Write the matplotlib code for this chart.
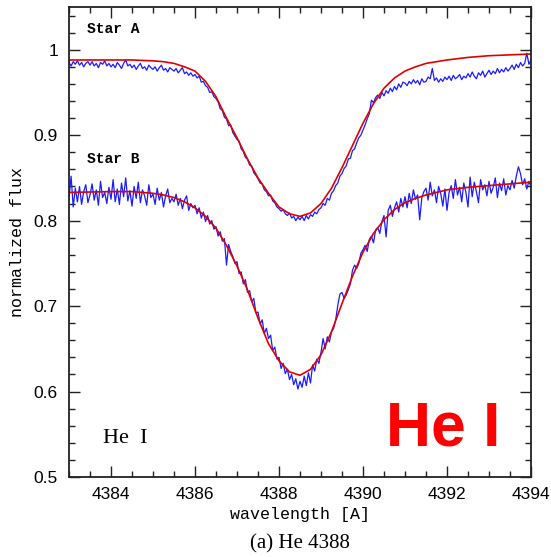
import matplotlib
matplotlib.use('Agg')
import matplotlib.pyplot as plt
from matplotlib.ticker import MultipleLocator
import numpy as np

flux_a_obs = [
    0.985, 0.981, 0.986, 0.983, 0.987, 0.982, 0.985, 0.980, 0.984, 0.986,
    0.982, 0.986, 0.981, 0.984, 0.979, 0.985, 0.983, 0.987, 0.981, 0.984,
    0.980, 0.983, 0.979, 0.985, 0.982, 0.978, 0.984, 0.988, 0.981, 0.983,
    0.979, 0.982, 0.977, 0.981, 0.984, 0.978, 0.980, 0.976, 0.982, 0.979,
    0.977, 0.980, 0.975, 0.979, 0.982, 0.976, 0.978, 0.974, 0.979, 0.977,
    0.975, 0.978, 0.973, 0.976, 0.979, 0.972, 0.974, 0.970, 0.973, 0.969,
    0.971, 0.967, 0.969, 0.962, 0.963, 0.958, 0.956, 0.950, 0.951, 0.945,
    0.943, 0.939, 0.931, 0.929, 0.921, 0.919, 0.911, 0.912, 0.903, 0.899,
    0.895, 0.893, 0.884, 0.881, 0.874, 0.872, 0.865, 0.864, 0.856, 0.853,
    0.849, 0.844, 0.843, 0.836, 0.834, 0.829, 0.830, 0.823, 0.821, 0.816,
    0.814, 0.811, 0.813, 0.808, 0.806, 0.809, 0.803, 0.805, 0.800, 0.804,
    0.801, 0.805, 0.800, 0.806, 0.802, 0.807, 0.805, 0.810, 0.808, 0.813,
    0.815, 0.820, 0.818, 0.826, 0.824, 0.832, 0.835, 0.841, 0.844, 0.852,
    0.855, 0.861, 0.864, 0.872, 0.873, 0.882, 0.884, 0.891, 0.897, 0.900,
    0.906, 0.912, 0.919, 0.925, 0.941, 0.938, 0.944, 0.947, 0.943, 0.950,
    0.946, 0.952, 0.949, 0.955, 0.951, 0.957, 0.953, 0.960, 0.956, 0.962,
    0.961, 0.958, 0.963, 0.960, 0.965, 0.961, 0.964, 0.959, 0.966, 0.962,
    0.963, 0.968, 0.966, 0.978, 0.964, 0.967, 0.962, 0.966, 0.963, 0.968,
    0.965, 0.969, 0.964, 0.970, 0.966, 0.968, 0.971, 0.965, 0.969, 0.967,
    0.972, 0.968, 0.974, 0.969, 0.966, 0.973, 0.970, 0.975, 0.968, 0.972,
    0.976, 0.971, 0.975, 0.972, 0.978, 0.973, 0.977, 0.974, 0.979, 0.975,
    0.978, 0.982, 0.977, 0.983, 0.979, 0.985, 0.981, 0.984, 0.996, 0.983,
    0.988,
]

flux_b_obs = [
    0.826, 0.852, 0.816, 0.838, 0.822, 0.840, 0.819, 0.834, 0.842, 0.821,
    0.830, 0.843, 0.824, 0.836, 0.818, 0.846, 0.827, 0.833, 0.820, 0.839,
    0.825, 0.848, 0.822, 0.837, 0.819, 0.844, 0.828, 0.850, 0.823, 0.835,
    0.817, 0.840, 0.826, 0.845, 0.821, 0.836, 0.829, 0.818, 0.842, 0.827,
    0.831, 0.819, 0.838, 0.824, 0.833, 0.816, 0.829, 0.837, 0.821, 0.826,
    0.822, 0.831, 0.818, 0.826, 0.814, 0.824, 0.829, 0.812, 0.820, 0.815,
    0.818, 0.808, 0.815, 0.803, 0.810, 0.799, 0.806, 0.796, 0.800, 0.790,
    0.793, 0.782, 0.787, 0.776, 0.779, 0.748, 0.772, 0.764, 0.758, 0.750,
    0.752, 0.738, 0.740, 0.726, 0.731, 0.716, 0.718, 0.705, 0.709, 0.692,
    0.693, 0.679, 0.684, 0.668, 0.674, 0.662, 0.666, 0.648, 0.652, 0.638,
    0.640, 0.627, 0.633, 0.621, 0.626, 0.614, 0.620, 0.608, 0.615, 0.603,
    0.612, 0.605, 0.618, 0.607, 0.622, 0.610, 0.631, 0.624, 0.638, 0.633,
    0.646, 0.662, 0.650, 0.664, 0.658, 0.670, 0.674, 0.684, 0.701, 0.714,
    0.716, 0.709, 0.713, 0.719, 0.726, 0.742, 0.748, 0.744, 0.750, 0.762,
    0.766, 0.771, 0.764, 0.778, 0.782, 0.774, 0.789, 0.792, 0.785, 0.799,
    0.806, 0.781, 0.812, 0.818, 0.805, 0.815, 0.822, 0.810, 0.826, 0.816,
    0.828, 0.815, 0.832, 0.820, 0.836, 0.825, 0.830, 0.801, 0.827, 0.834,
    0.838, 0.824, 0.845, 0.829, 0.836, 0.821, 0.840, 0.832, 0.817, 0.837,
    0.812, 0.833, 0.841, 0.826, 0.848, 0.830, 0.839, 0.822, 0.844, 0.833,
    0.816, 0.851, 0.828, 0.845, 0.834, 0.821, 0.848, 0.836, 0.842, 0.829,
    0.846, 0.832, 0.839, 0.850, 0.827, 0.844, 0.835, 0.849, 0.830, 0.841,
    0.836, 0.847, 0.838, 0.852, 0.863, 0.855, 0.842, 0.849, 0.837, 0.846,
    0.840,
]

# model fits (red)
wave_model = [4383.0, 4384.0, 4384.5, 4385.0, 4385.25, 4385.5, 4385.75, 4386.0,
              4386.25, 4386.5, 4386.75, 4387.0, 4387.25, 4387.5, 4387.75, 4388.0,
              4388.25, 4388.5, 4388.75, 4389.0, 4389.25, 4389.5, 4389.75, 4390.0,
              4390.25, 4390.5, 4390.75, 4391.0, 4391.25, 4391.5, 4391.75, 4392.0,
              4392.5, 4393.0, 4393.5, 4394.0]
flux_a_fit = [0.988, 0.988, 0.988, 0.987, 0.986, 0.984, 0.980, 0.975,
              0.963, 0.945, 0.920, 0.897, 0.872, 0.850, 0.832, 0.816,
              0.808, 0.805, 0.809, 0.820, 0.838, 0.862, 0.888, 0.914,
              0.937, 0.955, 0.967, 0.975, 0.980, 0.984, 0.986, 0.988,
              0.991, 0.993, 0.994, 0.995]
flux_b_fit = [0.833, 0.834, 0.834, 0.832, 0.830, 0.827, 0.822, 0.815,
              0.805, 0.791, 0.771, 0.747, 0.719, 0.686, 0.656, 0.636,
              0.623, 0.619, 0.626, 0.643, 0.670, 0.703, 0.735, 0.763,
              0.785, 0.801, 0.813, 0.821, 0.826, 0.830, 0.833, 0.836,
              0.839, 0.841, 0.843, 0.845]

wave_obs = np.linspace(4383, 4394, len(flux_a_obs))

fig = plt.figure(figsize=(5.51, 5.57), dpi=100)
ax = fig.add_axes([69 / 551, 1 - 477 / 557, 462 / 551, 470 / 557])

ax.plot(wave_obs, flux_a_obs, color='#1a1aff', lw=0.9)
ax.plot(wave_obs, flux_b_obs, color='#1a1aff', lw=0.9)
ax.plot(wave_model, flux_a_fit, color='#e00000', lw=1.2)
ax.plot(wave_model, flux_b_fit, color='#e00000', lw=1.2)

ax.set_xlim(4383, 4394)
ax.set_ylim(0.5, 1.05)
ax.xaxis.set_major_locator(MultipleLocator(2))
ax.xaxis.set_minor_locator(MultipleLocator(0.5))
ax.yaxis.set_major_locator(MultipleLocator(0.1))
ax.yaxis.set_minor_locator(MultipleLocator(0.02))
ax.yaxis.set_major_formatter(plt.FuncFormatter(lambda v, p: '%g' % round(v, 2)))
ax.tick_params(which='both', direction='in', top=True, right=True, width=1.0, color='#222222')
ax.tick_params(which='major', length=8, labelsize=12.5)
ax.tick_params(axis='x', which='major', pad=7)
ax.tick_params(axis='y', which='major', pad=8)
ax.tick_params(which='minor', length=4.3)
for lab in ax.get_xticklabels() + ax.get_yticklabels():
    lab.set_family('Liberation Sans')
for s in ax.spines.values():
    s.set_linewidth(1.3)
    s.set_color('#222222')

ax.set_xlabel('wavelength [A]', family='Liberation Mono', fontsize=12, labelpad=4)
ax.set_ylabel('normalized flux', family='Liberation Mono', fontsize=12, labelpad=6)

ax.text(4383.43, 1.019, 'Star A', family='Liberation Mono', fontweight='bold', fontsize=10.5)
ax.text(4383.43, 0.868, 'Star B', family='Liberation Mono', fontweight='bold', fontsize=10.5)
ax.text(4383.81, 0.540, 'He  I', family='Liberation Serif', fontsize=16)

fig.text(386 / 551, 1 - 445 / 557, 'He I', family='Liberation Sans', fontweight='bold',
         fontsize=45, color='#ff0000', va='baseline')
fig.text(0.545, 1 - 548 / 557, '(a) He 4388', family='Liberation Serif', fontsize=15,
         ha='center', va='baseline')

fig.savefig('out.png', dpi=100)
